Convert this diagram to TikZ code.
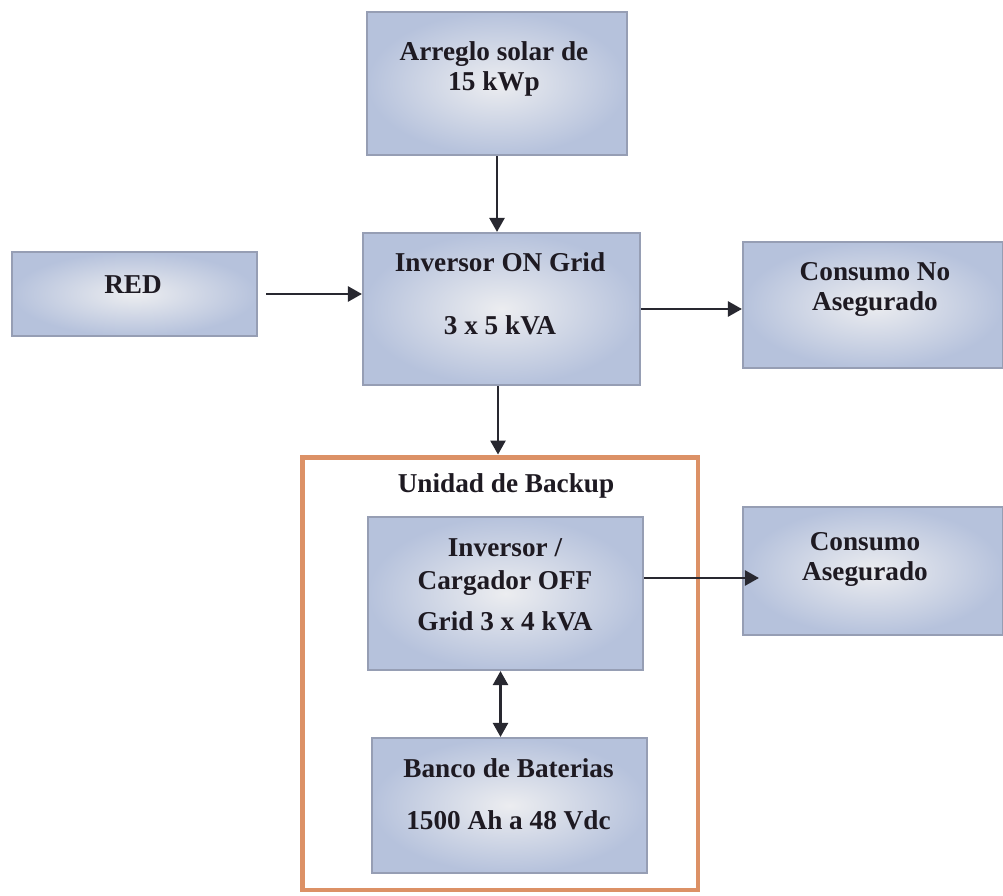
\documentclass[tikz,border=0pt]{standalone}
\usepackage{fontspec}
\setmainfont{Liberation Serif}
\usetikzlibrary{arrows.meta}

\definecolor{kastenblau}{RGB}{182,194,220}
\definecolor{kastenhell}{RGB}{236,237,240}
\definecolor{kastenrand}{RGB}{150,158,180}
\definecolor{rahmenorange}{RGB}{220,145,102}
\definecolor{pfeilgrau}{RGB}{40,40,48}
\definecolor{schriftgrau}{RGB}{30,26,34}

\begin{document}
\begin{tikzpicture}[x=0.02cm, y=-0.02cm, >={Triangle[length=8pt,width=8.5pt]},
  kasten/.style={rectangle, draw=kastenrand, line width=1.2pt, inner color=kastenhell, outer color=kastenblau},
  schrift/.style={anchor=north, align=center, inner sep=0pt, text=schriftgrau, font=\fontsize{15.5}{17}\selectfont\bfseries},
  pfeil/.style={->, line width=1.6pt, draw=pfeilgrau}]
\useasboundingbox (0,0) rectangle (1003,895);

% Kaesten
\node[kasten, minimum width=5.2cm, minimum height=2.86cm] (arreglo) at (497,83.5) {};
\node[kasten, minimum width=4.9cm, minimum height=1.68cm] (red) at (134.5,294) {};
\node[kasten, minimum width=5.54cm, minimum height=3.04cm] (invon) at (501.5,309) {};
\node[kasten, minimum width=5.2cm, minimum height=2.52cm] (consno) at (873,305) {};

% Backup-Einheit
\node[rectangle, draw=rahmenorange, line width=2.8pt, minimum width=7.92cm, minimum height=8.66cm] (backup) at (500,673.5) {};
\node[kasten, minimum width=5.5cm, minimum height=3.06cm] (invoff) at (505.5,593.5) {};
\node[kasten, minimum width=5.5cm, minimum height=2.7cm] (banco) at (509.5,805.5) {};
\node[kasten, minimum width=5.2cm, minimum height=2.56cm] (conssi) at (873,571) {};

% Beschriftungen
\node[schrift] (arreglotext) at (494,41) {Arreglo solar de\\15 kWp};
\node[schrift] (redtext) at (133,275) {RED};
\node[schrift] (invontext) at (500,252) {Inversor ON Grid\\[19pt]3 x 5 kVA};
\node[schrift] (consnotext) at (875,262) {Consumo No\\Asegurado};
\node[schrift] (backuptext) at (506,473) {Unidad de Backup};
\node[schrift] (invofftext) at (505,538) {Inversor /\\[2pt]Cargador OFF\\[6pt]Grid 3 x 4 kVA};
\node[schrift] (bancotext) at (508.5,758) {Banco de Baterias\\[13pt]1500 Ah a 48 Vdc};
\node[schrift] (conssitext) at (865,532) {Consumo\\Asegurado};

% Pfeile
\draw[pfeil] (arreglo.south) -- (arreglo.south |- invon.north);
\draw[pfeil] ([xshift=0.16cm]red.east) -- (red.east -| invon.west);
\draw[pfeil] (invon.east) -- (invon.east -| consno.west);
\draw[pfeil] ([xshift=-0.07cm]invon.south) -- ([xshift=-0.07cm]invon.south |- backup.north);
\draw[pfeil, <->] ([xshift=-0.1cm]invoff.south) -- ([xshift=-0.1cm]invoff.south |- banco.north);
\draw[pfeil] ([yshift=-0.14cm]conssi.west -| invoff.east) -- ([shift={(0.34cm,-0.14cm)}]conssi.west);
\end{tikzpicture}
\end{document}
